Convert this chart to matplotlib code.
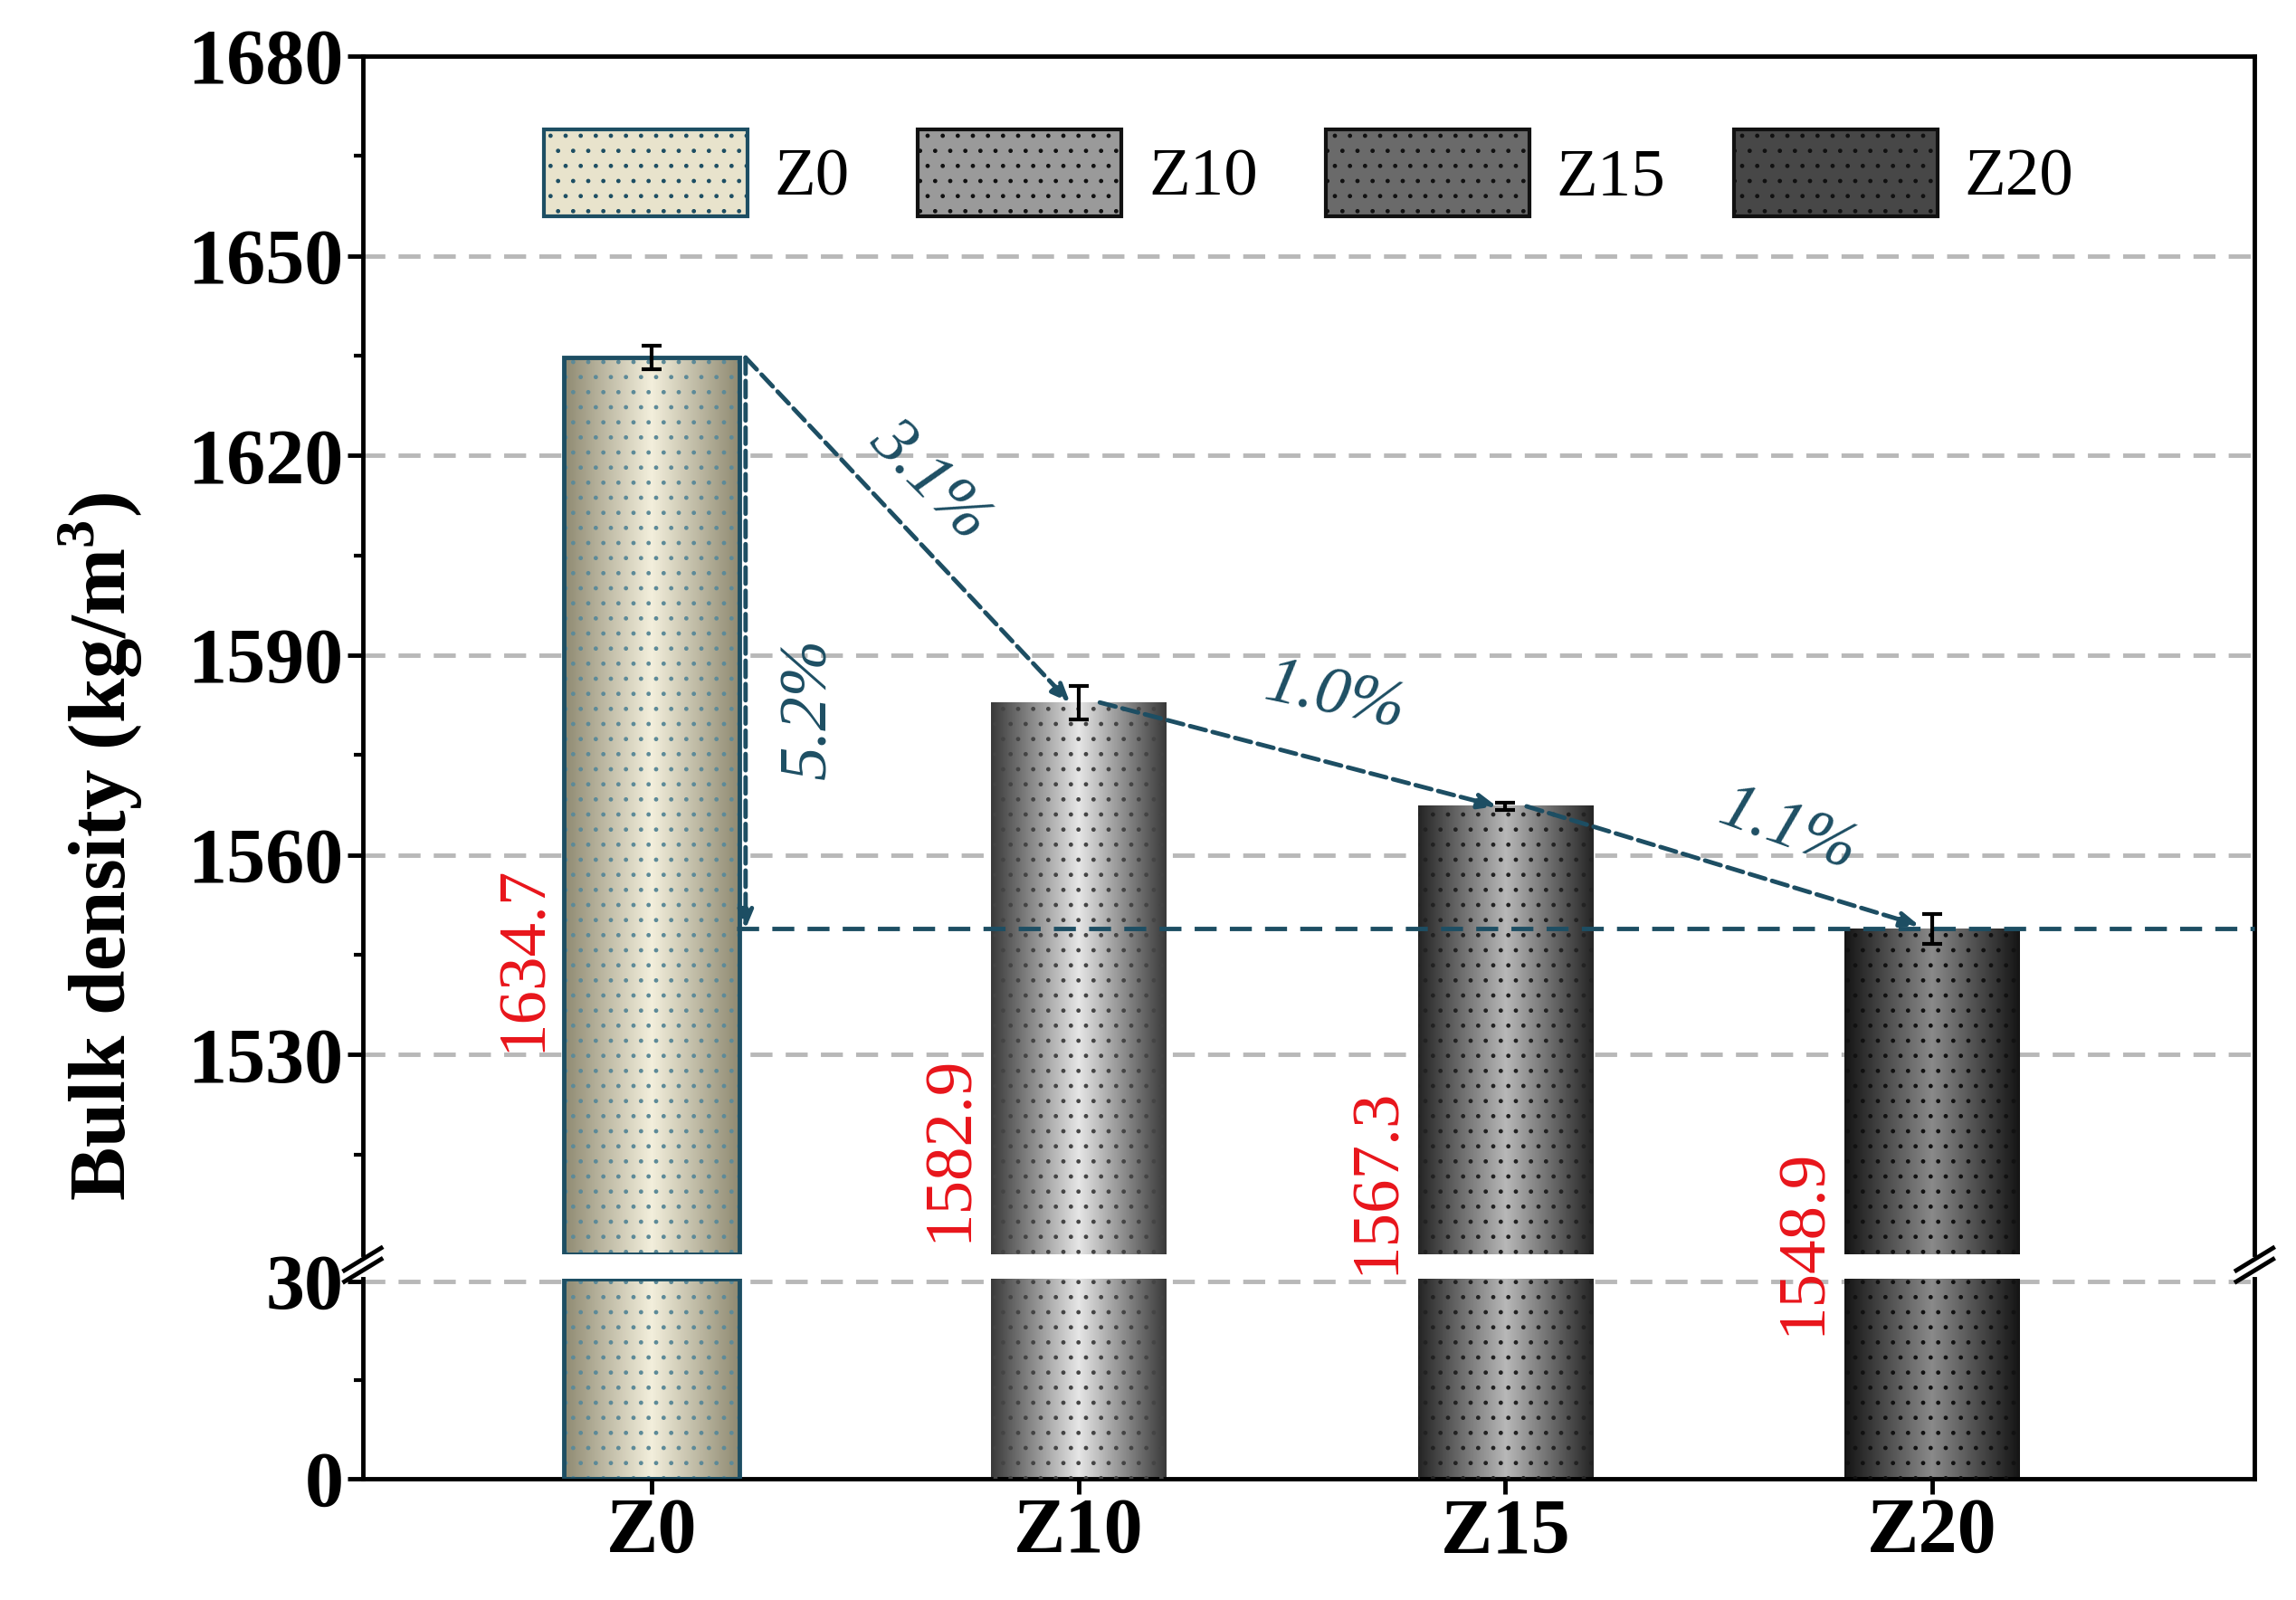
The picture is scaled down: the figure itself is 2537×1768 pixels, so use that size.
import numpy as np
import matplotlib
matplotlib.use("Agg")
import matplotlib.pyplot as plt
from matplotlib.patches import Patch
from matplotlib.colors import LinearSegmentedColormap

cats = ["Z0", "Z10", "Z15", "Z20"]
vals = [1634.7, 1582.9, 1567.3, 1548.9]
errs = [1.8, 2.5, 0.5, 2.2]
pcts = ["3.1%", "1.0%", "1.1%"]
total_pct = "5.2%"

plt.rcParams['font.family'] = ['Liberation Serif', 'DejaVu Serif']
plt.rcParams['mathtext.fontset'] = 'custom'
plt.rcParams['mathtext.rm'] = 'Liberation Serif'
plt.rcParams['mathtext.bf'] = 'Liberation Serif:bold'
plt.rcParams['hatch.linewidth'] = 1.0
teal = "#1d4e63"
red = "#e8151b"

edge_c = [["#8f8a72", "#f3efdc", "#8f8a72"], ["#3a3a3a", "#e6e6e6", "#3a3a3a"],
          ["#252525", "#b8b8b8", "#252525"], ["#151515", "#8a8a8a", "#151515"]]
hatch_c = ["#5d8a98", "#444444", "#222222", "#111111"]
leg_c = ["#e8e3cc", "#9a9a9a", "#6a6a6a", "#474747"]

fig = plt.figure(figsize=(25.37, 17.68), dpi=100)
L, R = 0.158, 0.982
axt = fig.add_axes([L, 0.216, R - L, 0.965 - 0.216])
axb = fig.add_axes([L, 0.076, R - L, 0.201 - 0.076])
axb.patch.set_visible(False)
x = np.arange(4)
w = 0.41
for ax, lo, hi in [(axt, 1500, 1680), (axb, 0, 30.4)]:
    ax.set_xlim(-0.677, 3.756)
    ax.set_ylim(lo, hi)
    for i, v in enumerate(vals):
        cmap = LinearSegmentedColormap.from_list("g%d" % i, edge_c[i])
        grad = np.linspace(0, 1, 200).reshape(1, -1)
        top = min(v, hi)
        ax.imshow(grad, cmap=cmap, aspect='auto', extent=[i - w/2, i + w/2, lo, top],
                  zorder=2, interpolation='bilinear')
        ax.bar(i, top - lo, bottom=lo, width=w, facecolor='none', hatch='.',
               edgecolor=hatch_c[i], linewidth=0, zorder=3)
        if i == 0:
            ax.bar(i, top - lo, bottom=lo, width=w, facecolor='none',
                   edgecolor=teal, linewidth=3.5, zorder=4)
    ax.tick_params(axis='both', labelsize=62, width=3.5, length=12)
    ax.tick_params(axis='y', which='minor', width=3, length=7)
    for s in ax.spines.values():
        s.set_linewidth(3.5)
    ax.set_aspect('auto')

axt.set_yticks([1530, 1560, 1590, 1620, 1650, 1680])
axt.set_yticks(np.arange(1515, 1680, 15), minor=True)
for yv in [1530, 1560, 1590, 1620, 1650]:
    axt.axhline(yv, color='#b8b8b8', ls=(0, (5, 3)), lw=3.5, zorder=1)
axt.set_xticks([])
axt.spines['bottom'].set_visible(False)
axb.spines['top'].set_visible(False)
axb.set_yticks([0, 30])
axb.set_yticks([15], minor=True)
axb.axhline(30, color='#b8b8b8', ls=(0, (5, 3)), lw=3.5, zorder=1)
axb.set_xticks(x)
axb.set_xticklabels(cats, fontsize=62)
for t in axt.get_yticklabels() + axb.get_yticklabels() + axb.get_xticklabels():
    t.set_fontweight('bold')

axt.errorbar(x, vals, yerr=errs, fmt='none', ecolor='black', elinewidth=3,
             capsize=8, capthick=3, zorder=6)

for xf in [0.0, 1.0]:
    for yf in [0.206, 0.213]:
        fig.add_artist(plt.Line2D([L + (R - L) * xf - 0.008, L + (R - L) * xf + 0.008],
                                  [yf - 0.007, yf + 0.007], color='black', lw=3.5))

ls = (0, (5, 3))
axt.plot([0.2, 3.756], [vals[3], vals[3]], color=teal, ls=ls, lw=3.5, zorder=5, clip_on=False)
def arr(x0, y0, x1, y1):
    axt.annotate("", xy=(x1, y1), xytext=(x0, y0),
                 arrowprops=dict(arrowstyle='-|>,head_length=1.2,head_width=0.5', color=teal,
                                 lw=3.5, ls='--', shrinkA=0, shrinkB=0), zorder=7)
arr(0.22, vals[0], 0.22, vals[3])
arr(0.22, vals[0], 0.98, vals[1])
arr(1.05, vals[1], 1.98, vals[2])
arr(2.05, vals[2], 2.97, vals[3] + 0.5)
kw = dict(color=teal, fontsize=54, style='italic', ha='center', va='center', zorder=8)
axt.text(0.65, 1616, pcts[0], rotation=-45, **kw)
axt.text(0.37, 1582, total_pct, rotation=90, **kw)
axt.text(1.6, 1583.5, pcts[1], rotation=-12, **kw)
axt.text(2.66, 1563.5, pcts[2], rotation=-20, **kw)

ly = [1544.5, 1516, 1511, 1502]
for i, v in enumerate(vals):
    fig.text(0, 0, f"{v:.1f}", rotation=90, color=red, fontsize=54,
             ha='center', va='center', zorder=20,
             transform=axt.transData + matplotlib.transforms.Affine2D().translate(0, 0)) \
        .set_position((i - 0.3, ly[i]))

axt.set_ylabel("Bulk density (kg/m$^\\mathbf{3}$)", fontsize=64, fontweight='bold')
axt.yaxis.set_label_coords(-0.115, 0.34)

handles = [Patch(facecolor=leg_c[i], edgecolor=(teal if i == 0 else '#111111'), linewidth=3,
                 hatch='.') for i in range(4)]
axt.legend(handles, cats, loc='upper center', ncol=4, frameon=False, fontsize=54,
           handlelength=3.0, handleheight=1.6, columnspacing=1.0, handletextpad=0.4,
           bbox_to_anchor=(0.5, 0.99))
fig.savefig("out.png", dpi=100)
